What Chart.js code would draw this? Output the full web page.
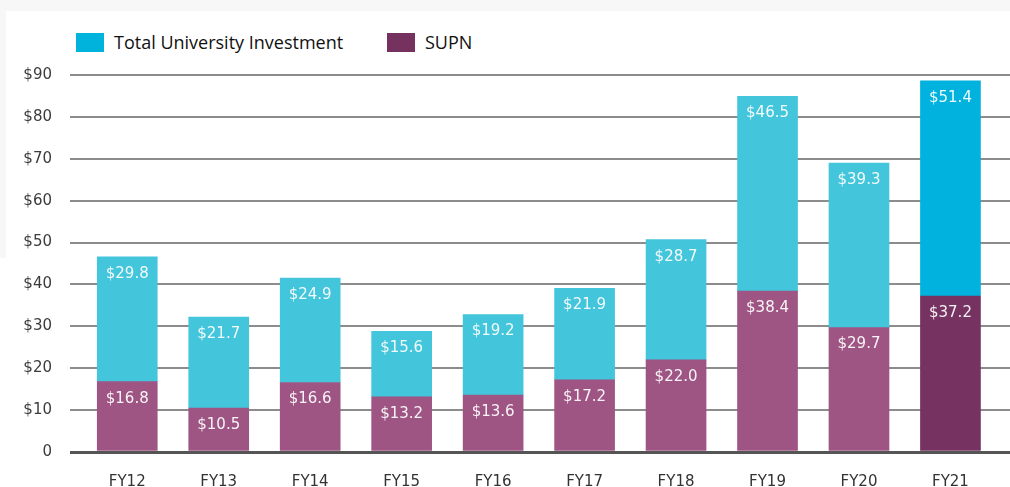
<!DOCTYPE html>
<html>
<head>
<meta charset="utf-8">
<script src="https://cdn.jsdelivr.net/npm/chart.js@4/dist/chart.umd.min.js"></script>
<style>
    html, body { margin: 0; padding: 0; }
    body { width: 1010px; height: 487px; background: #f7f7f7; position: relative; overflow: hidden; }
    #card { position: absolute; left: 6px; top: 11px; right: 0; bottom: 0; background: #fff; }
    #card-low { position: absolute; left: 0; top: 258px; width: 6px; bottom: 0; background: #fff; }
    #wrap { position: absolute; left: 0; top: 0; width: 1010px; height: 487px; }
    .legend { position: absolute; top: 29px; font-family: "Open Sans", sans-serif; font-size: 18px; color: #111; white-space: nowrap; }
    .legend span.box { position: absolute; top: 4px; width: 28px; height: 19px; }
    .legend span.txt { position: absolute; left: 38px; top: 0; line-height: 26px; }
</style>
</head>
<body>
<div id="card"></div>
<div id="card-low"></div>
<div id="legend-total" class="legend" style="left:76px"><span class="box" style="background:#00b3dc"></span><span class="txt">Total University Investment</span></div>
<div id="legend-supn" class="legend" style="left:387px"><span class="box" style="background:#76325f"></span><span class="txt">SUPN</span></div>
<div id="wrap"><canvas id="chart" width="1010" height="487"></canvas></div>
<script>
(function() {
    'use strict';

    // fiscal years on the x axis
    var years = ['FY12', 'FY13', 'FY14', 'FY15', 'FY16', 'FY17', 'FY18', 'FY19', 'FY20', 'FY21'];

    // $ millions, stacked: SUPN at the bottom, university investment on top
    var supn = [16.8, 10.5, 16.6, 13.2, 13.6, 17.2, 22.0, 38.4, 29.7, 37.2];
    var university = [29.8, 21.7, 24.9, 15.6, 19.2, 21.9, 28.7, 46.5, 39.3, 51.4];

    var yTicks = [0, 10, 20, 30, 40, 50, 60, 70, 80, 90];

    var cyan = '#43c5db', cyanDark = '#00b2dd';
    var plum = '#9e5583', plumDark = '#763260';

    // last year is highlighted with the darker shades
    function shades(normal, dark) {
        return years.map(function(y, i) {
            return i === years.length - 1 ? dark : normal;
        });
    }

    function points(values) {
        return values.map(function(v, i) {
            return { x: i, y: v };
        });
    }

    var valueLabels = {
        id: 'valueLabels',
        afterDatasetsDraw: function(chart) {
            var ctx = chart.ctx;
            ctx.save();
            ctx.font = '15px "DejaVu Sans", sans-serif';
            ctx.fillStyle = 'rgba(255,255,255,0.93)';
            ctx.textAlign = 'center';
            ctx.textBaseline = 'middle';
            chart.data.datasets.forEach(function(ds, di) {
                var meta = chart.getDatasetMeta(di);
                meta.data.forEach(function(bar, i) {
                    ctx.fillText('$' + ds.data[i].y.toFixed(1), bar.x, bar.y + 17);
                });
            });
            ctx.restore();
        }
    };

    var chart = new Chart(document.getElementById('chart'), {
        type: 'bar',
        data: {
            datasets: [{
                label: 'SUPN',
                data: points(supn),
                backgroundColor: shades(plum, plumDark),
                stack: 'funding',
                barThickness: 60
            }, {
                label: 'Total University Investment',
                data: points(university),
                backgroundColor: shades(cyan, cyanDark),
                stack: 'funding',
                barThickness: 60
            }]
        },
        options: {
            responsive: false,
            animation: false,
            layout: { padding: { top: 75, right: 0, bottom: 0, left: 0 } },
            plugins: {
                legend: { display: false },
                tooltip: { enabled: false }
            },
            scales: {
                x: {
                    type: 'linear',
                    offset: false,
                    min: -0.626,
                    max: 9.651,
                    afterBuildTicks: function(scale) {
                        scale.ticks = years.map(function(y, i) { return { value: i }; });
                    },
                    afterFit: function(scale) { scale.height = 35; },
                    grid: { display: false, drawTicks: false, offset: false },
                    border: { display: false },
                    ticks: {
                        padding: 21,
                        color: '#333',
                        font: { family: '"DejaVu Sans", sans-serif', size: 15 },
                        callback: function(value) { return years[value]; }
                    }
                },
                y: {
                    stacked: true,
                    min: 0,
                    max: 90,
                    afterBuildTicks: function(scale) {
                        scale.ticks = yTicks.map(function(v) { return { value: v }; });
                    },
                    afterFit: function(scale) { scale.width = 70; },
                    border: { display: false },
                    grid: {
                        drawTicks: false,
                        color: function(c) { return c.tick && c.tick.value === 0 ? '#555' : '#8c8c8c'; },
                        lineWidth: function(c) { return c.tick && c.tick.value === 0 ? 3 : 2; }
                    },
                    ticks: {
                        padding: 18,
                        color: '#3c3c3c',
                        font: { family: '"DejaVu Sans", sans-serif', size: 15 },
                        callback: function(value) { return value === 0 ? '0' : '$' + value; }
                    }
                }
            }
        },
        plugins: [valueLabels]
    });
})();
</script>
</body>
</html>
